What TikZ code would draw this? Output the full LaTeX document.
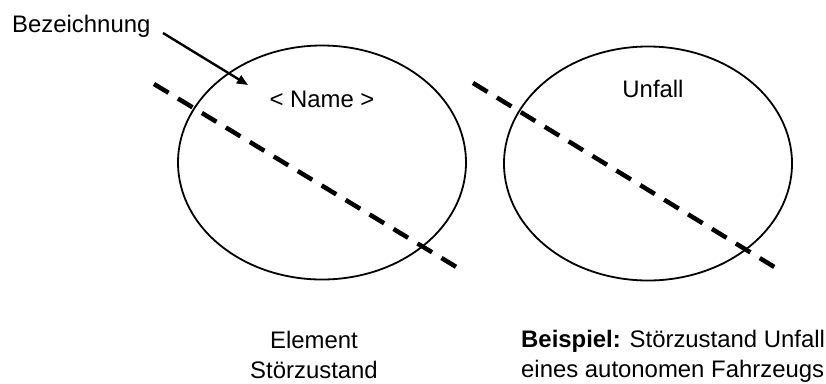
\documentclass[tikz,border=0pt]{standalone}
\usepackage{fontspec}
\setmainfont{Liberation Sans}
\usetikzlibrary{shapes.geometric,arrows.meta}
\begin{document}
\begin{tikzpicture}[x=1pt,y=-1pt,
  txt/.style={inner sep=0pt,font=\fontsize{23.9}{28}\selectfont},
  stoer/.style={draw,ellipse,inner sep=0pt,line width=1.8pt,minimum width=288pt,minimum height=234pt},
  cutline/.style={line width=4.5pt,dash pattern=on 17pt off 11pt},
  pointer/.style={line width=2.4pt,-{Triangle[length=11pt,width=9pt]}}]
\useasboundingbox (0,0) rectangle (826,383);
\node[stoer] (e1) at (322,162.5) {};
\node[stoer] (e2) at (648,163.5) {};
\coordinate (c1a) at (154,84);
\coordinate (c1b) at (458,268);
\coordinate (c2a) at (473,83);
\coordinate (c2b) at (776,268);
\draw[cutline] (c1a) -- (c1b);
\draw[cutline] (c2a) -- (c2b);
\node[txt,anchor=base west] (bez) at (12,32) {Bezeichnung};
\coordinate (as) at (163,33);
\coordinate (ae) at (248,85);
\draw[pointer] (as) -- (ae);
\node[txt,anchor=base] (name) at (322,107) {< Name >};
\node[txt,anchor=base] (unf) at (653,97) {Unfall};
\node[txt,anchor=base] (el1) at (314,348) {Element};
\node[txt,anchor=base] (el2) at (314,378) {Störzustand};
\node[txt,anchor=base west] (bs1) at (521,347) {\textbf{Beispiel:} Störzustand Unfall};
\node[txt,anchor=base west] (bs2) at (521,377) {eines autonomen Fahrzeugs};
\end{tikzpicture}
\end{document}
